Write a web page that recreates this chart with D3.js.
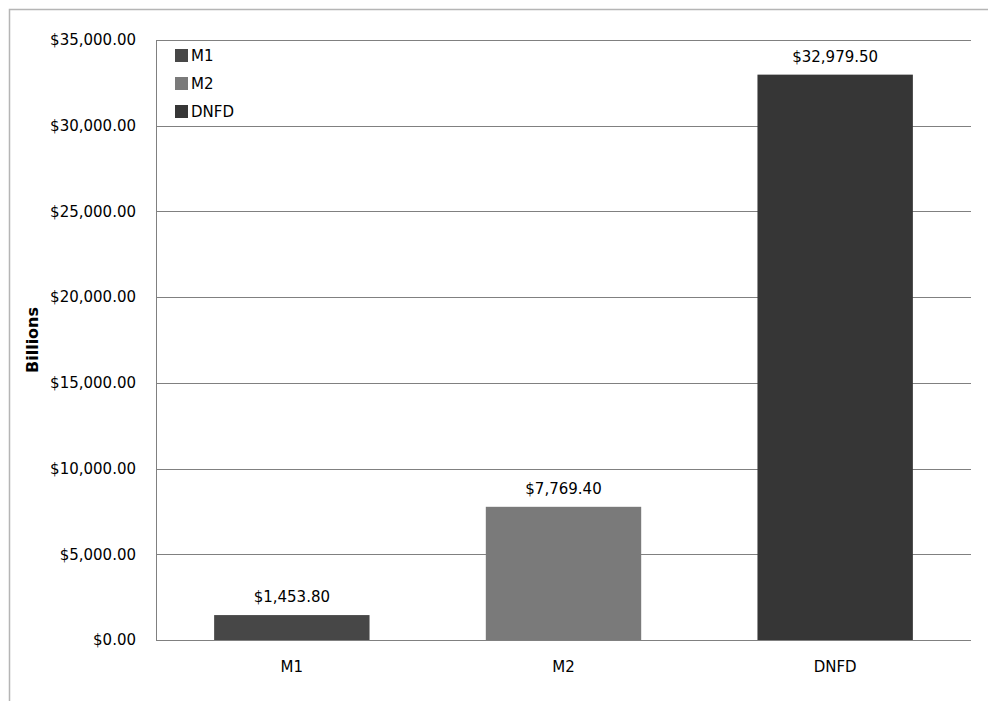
<!DOCTYPE html>
<html>
<head>
<meta charset="utf-8">
<script src="https://cdn.jsdelivr.net/npm/d3@7"></script>
<style>
  html, body { margin: 0; padding: 0; background: #fff; }
  svg { display: block; }
  text { font-family: "DejaVu Sans", sans-serif; fill: #000; }
</style>
</head>
<body>
<svg id="chart" width="988" height="701"></svg>
<script>
const categories = ["M1", "M2", "DNFD"];
const values = [1453.80, 7769.40, 32979.50];
const colors = ["#474747", "#7a7a7a", "#363636"];
const yTicks = [0, 5000, 10000, 15000, 20000, 25000, 30000, 35000];
const yTitle = "Billions";

const svg = d3.select("#chart");
const W = 988, H = 701;
const m = { left: 156, top: 40, right: 971, bottom: 640 };

// outer frame (extends past the viewport on right/bottom)
svg.append("path")
  .attr("d", `M9.5,${H + 5} L9.5,9.5 L${W + 5},9.5`)
  .attr("fill", "none").attr("stroke", "#b5b5b5").attr("stroke-width", 1.5);

const x = d3.scaleBand().domain(categories).range([m.left, m.right]).padding(0);
const y = d3.scaleLinear().domain([0, 35000]).range([m.bottom, m.top]);
const fmt = v => "$" + d3.format(",.2f")(v);

// gridlines
svg.append("g").selectAll("line").data(yTicks).join("line")
  .attr("x1", m.left).attr("x2", m.right)
  .attr("y1", d => Math.round(y(d)) + 0.5).attr("y2", d => Math.round(y(d)) + 0.5)
  .attr("stroke", "#808080").attr("stroke-width", 1);

// y axis line
svg.append("line")
  .attr("x1", m.left + 0.5).attr("x2", m.left + 0.5)
  .attr("y1", m.top).attr("y2", m.bottom)
  .attr("stroke", "#808080");

// y tick labels
svg.append("g").selectAll("text").data(yTicks).join("text")
  .attr("x", 136).attr("y", d => y(d)).attr("dy", "0.35em")
  .attr("text-anchor", "end").attr("font-size", 15)
  .text(d => fmt(d));

// y title
svg.append("text")
  .attr("transform", `translate(38,${(m.top + m.bottom) / 2}) rotate(-90)`)
  .attr("text-anchor", "middle")
  .attr("font-family", "Liberation Sans, Arial, sans-serif")
  .attr("font-weight", "bold").attr("font-size", 16)
  .text(yTitle);

// bars
const barFrac = 0.572;
const bw = x.bandwidth() * barFrac;
svg.append("g").selectAll("rect").data(categories).join("rect")
  .attr("x", d => x(d) + (x.bandwidth() - bw) / 2)
  .attr("width", bw)
  .attr("y", (d, i) => y(values[i]))
  .attr("height", (d, i) => y(0) - y(values[i]))
  .attr("fill", (d, i) => colors[i]);

// value labels
svg.append("g").selectAll("text").data(categories).join("text")
  .attr("x", d => x(d) + x.bandwidth() / 2)
  .attr("y", (d, i) => y(values[i]) - 13)
  .attr("text-anchor", "middle").attr("font-size", 15)
  .text((d, i) => fmt(values[i]));

// x labels
svg.append("g").selectAll("text").data(categories).join("text")
  .attr("x", d => x(d) + x.bandwidth() / 2)
  .attr("y", 672)
  .attr("text-anchor", "middle").attr("font-size", 15)
  .text(d => d);

// legend
const lg = svg.append("g").attr("transform", "translate(175,49)");
const items = lg.selectAll("g").data(categories).join("g")
  .attr("transform", (d, i) => `translate(0,${i * 28})`);
items.append("rect").attr("width", 13).attr("height", 13)
  .attr("fill", (d, i) => colors[i]);
items.append("text").attr("x", 16).attr("y", 6.5).attr("dy", "0.35em")
  .attr("font-size", 15).text(d => d);
</script>
</body>
</html>
